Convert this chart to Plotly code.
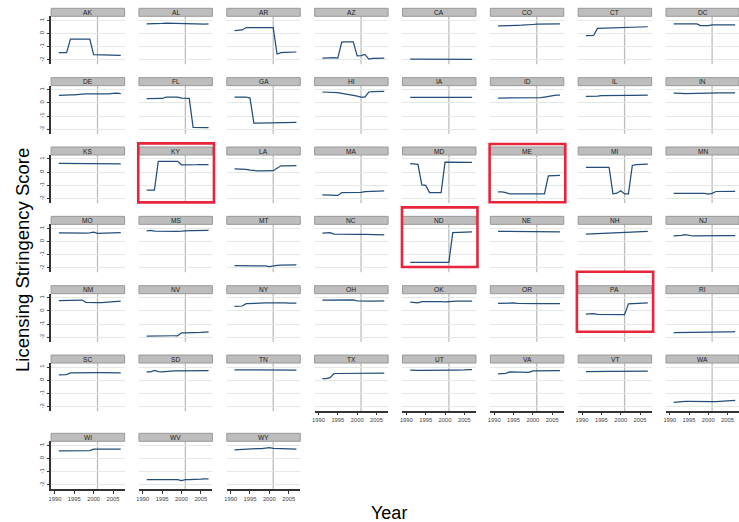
import plotly.graph_objects as go

# ---------------------------------------------------------------- data
YEARS = list(range(1991, 2008))

STATES = [
    "AK", "AL", "AR", "AZ", "CA", "CO", "CT", "DC",
    "DE", "FL", "GA", "HI", "IA", "ID", "IL", "IN",
    "KS", "KY", "LA", "MA", "MD", "ME", "MI", "MN",
    "MO", "MS", "MT", "NC", "ND", "NE", "NH", "NJ",
    "NM", "NV", "NY", "OH", "OK", "OR", "PA", "RI",
    "SC", "SD", "TN", "TX", "UT", "VA", "VT", "WA",
    "WI", "WV", "WY",
]

AK = [-1.45, -1.45, -1.45, -0.42, -0.42, -0.43, -0.43, -0.43, -0.42, -1.6, -1.6, -1.6, -1.61, -1.62, -1.63, -1.65, -1.65]
AL = [0.72, 0.72, 0.73, 0.74, 0.76, 0.78, 0.77, 0.75, 0.74, 0.74, 0.74, 0.74, 0.74, 0.73, 0.72, 0.71, 0.73]
AR = [0.22, 0.23, 0.27, 0.45, 0.45, 0.45, 0.45, 0.45, 0.45, 0.45, 0.45, -1.55, -1.45, -1.43, -1.43, -1.43, -1.4]
AZ = [-1.87, -1.85, -1.84, -1.82, -1.86, -0.65, -0.64, -0.64, -0.64, -1.69, -1.68, -1.58, -1.94, -1.88, -1.87, -1.87, -1.86]
CA = [-1.93, -1.93, -1.92, -1.92, -1.91, -1.91, -1.91, -1.9, -1.9, -1.9, -1.9, -1.91, -1.91, -1.92, -1.93, -1.94, -1.95]
CO = [0.57, 0.57, 0.58, 0.59, 0.6, 0.62, 0.63, 0.63, 0.64, 0.68, 0.7, 0.7, 0.7, 0.71, 0.71, 0.71, 0.72]
CT = [-0.17, -0.17, -0.15, 0.38, 0.39, 0.4, 0.41, 0.42, 0.43, 0.45, 0.46, 0.47, 0.48, 0.49, 0.5, 0.51, 0.51]
DC = [0.73, 0.73, 0.74, 0.74, 0.74, 0.74, 0.73, 0.6, 0.58, 0.6, 0.65, 0.65, 0.65, 0.66, 0.66, 0.66, 0.66]
DE = [0.56, 0.58, 0.63, 0.6, 0.61, 0.66, 0.66, 0.67, 0.67, 0.67, 0.67, 0.66, 0.67, 0.68, 0.72, 0.74, 0.7]
FL = [0.31, 0.31, 0.32, 0.32, 0.33, 0.43, 0.43, 0.44, 0.43, 0.36, 0.35, 0.34, -1.86, -1.87, -1.87, -1.88, -1.88]
GA = [0.44, 0.44, 0.44, 0.44, 0.36, -1.53, -1.53, -1.53, -1.53, -1.53, -1.53, -1.52, -1.51, -1.5, -1.48, -1.48, -1.48]
HI = [0.82, 0.82, 0.82, 0.81, 0.78, 0.72, 0.68, 0.62, 0.56, 0.5, 0.44, 0.44, 0.82, 0.84, 0.85, 0.86, 0.87]
IA = [0.41, 0.41, 0.41, 0.41, 0.41, 0.41, 0.41, 0.41, 0.41, 0.41, 0.41, 0.41, 0.41, 0.41, 0.41, 0.41, 0.41]
ID = [0.36, 0.36, 0.36, 0.36, 0.36, 0.36, 0.36, 0.36, 0.36, 0.36, 0.37, 0.4, 0.44, 0.5, 0.56, 0.58, 0.58]
IL = [0.49, 0.49, 0.5, 0.51, 0.55, 0.56, 0.56, 0.56, 0.56, 0.56, 0.56, 0.57, 0.57, 0.57, 0.58, 0.58, 0.59]
IN = [0.74, 0.75, 0.71, 0.7, 0.7, 0.7, 0.71, 0.72, 0.73, 0.74, 0.74, 0.74, 0.75, 0.76, 0.77, 0.77, 0.76]
KS = [0.66, 0.66, 0.66, 0.66, 0.66, 0.66, 0.66, 0.66, 0.66, 0.66, 0.65, 0.63, 0.62, 0.62, 0.62, 0.62, 0.62]
KY = [-1.36, -1.36, -1.36, 0.81, 0.81, 0.82, 0.82, 0.82, 0.82, 0.56, 0.55, 0.55, 0.56, 0.57, 0.58, 0.58, 0.58]
LA = [0.25, 0.25, 0.24, 0.22, 0.15, 0.11, 0.1, 0.1, 0.1, 0.1, 0.11, 0.3, 0.48, 0.48, 0.48, 0.49, 0.49]
MA = [-1.71, -1.72, -1.73, -1.76, -1.76, -1.54, -1.54, -1.53, -1.53, -1.53, -1.52, -1.47, -1.46, -1.45, -1.43, -1.42, -1.41]
MD = [0.64, 0.64, 0.6, -0.96, -1.0, -1.54, -1.54, -1.54, -1.54, 0.76, 0.76, 0.76, 0.76, 0.76, 0.75, 0.75, 0.74]
ME = [-1.49, -1.49, -1.55, -1.64, -1.64, -1.64, -1.64, -1.64, -1.64, -1.64, -1.64, -1.64, -1.64, -0.28, -0.27, -0.26, -0.24]
MI = [0.36, 0.36, 0.36, 0.36, 0.36, 0.36, 0.36, -1.64, -1.59, -1.41, -1.64, -1.64, 0.51, 0.57, 0.6, 0.61, 0.61]
MN = [-1.6, -1.6, -1.59, -1.59, -1.59, -1.59, -1.59, -1.59, -1.6, -1.66, -1.6, -1.46, -1.46, -1.46, -1.46, -1.46, -1.45]
MO = [0.66, 0.65, 0.64, 0.64, 0.64, 0.64, 0.64, 0.64, 0.65, 0.71, 0.62, 0.62, 0.62, 0.63, 0.64, 0.66, 0.67]
MS = [0.81, 0.84, 0.78, 0.77, 0.77, 0.77, 0.77, 0.77, 0.77, 0.78, 0.82, 0.82, 0.83, 0.83, 0.84, 0.84, 0.85]
MT = [-1.83, -1.83, -1.82, -1.82, -1.82, -1.82, -1.82, -1.82, -1.84, -1.89, -1.82, -1.8, -1.79, -1.78, -1.76, -1.75, -1.76]
NC = [0.63, 0.65, 0.68, 0.56, 0.55, 0.55, 0.55, 0.55, 0.55, 0.55, 0.54, 0.54, 0.54, 0.53, 0.53, 0.52, 0.51]
ND = [-1.57, -1.56, -1.57, -1.57, -1.57, -1.57, -1.57, -1.57, -1.57, -1.57, -1.57, 0.68, 0.69, 0.7, 0.71, 0.72, 0.73]
NE = [0.77, 0.77, 0.75, 0.74, 0.74, 0.74, 0.74, 0.74, 0.74, 0.74, 0.74, 0.74, 0.74, 0.74, 0.74, 0.74, 0.74]
NH = [0.56, 0.57, 0.6, 0.62, 0.63, 0.64, 0.66, 0.68, 0.69, 0.7, 0.71, 0.71, 0.72, 0.72, 0.73, 0.74, 0.76]
NJ = [0.43, 0.43, 0.47, 0.53, 0.46, 0.42, 0.42, 0.43, 0.44, 0.46, 0.47, 0.47, 0.46, 0.45, 0.44, 0.43, 0.45]
NM = [0.78, 0.79, 0.8, 0.81, 0.82, 0.83, 0.82, 0.65, 0.63, 0.63, 0.63, 0.63, 0.64, 0.66, 0.68, 0.7, 0.73]
NV = [-1.9, -1.89, -1.89, -1.88, -1.88, -1.88, -1.88, -1.88, -1.88, -1.66, -1.66, -1.66, -1.65, -1.63, -1.62, -1.6, -1.58]
NY = [0.35, 0.35, 0.37, 0.55, 0.57, 0.57, 0.58, 0.59, 0.6, 0.6, 0.61, 0.61, 0.6, 0.6, 0.59, 0.58, 0.58]
OH = [0.81, 0.81, 0.81, 0.82, 0.82, 0.82, 0.82, 0.83, 0.83, 0.76, 0.74, 0.73, 0.73, 0.74, 0.74, 0.75, 0.76]
OK = [0.66, 0.65, 0.6, 0.7, 0.71, 0.71, 0.7, 0.7, 0.7, 0.69, 0.72, 0.72, 0.73, 0.73, 0.73, 0.74, 0.74]
OR = [0.56, 0.57, 0.6, 0.63, 0.6, 0.56, 0.55, 0.55, 0.55, 0.55, 0.55, 0.55, 0.55, 0.54, 0.52, 0.54, 0.55]
PA = [-0.25, -0.23, -0.2, -0.27, -0.28, -0.28, -0.28, -0.28, -0.28, -0.28, -0.29, 0.53, 0.54, 0.55, 0.57, 0.59, 0.61]
RI = [-1.64, -1.64, -1.64, -1.64, -1.64, -1.64, -1.64, -1.63, -1.63, -1.63, -1.62, -1.62, -1.61, -1.6, -1.59, -1.58, -1.56]
SC = [0.4, 0.4, 0.42, 0.55, 0.56, 0.56, 0.56, 0.56, 0.57, 0.57, 0.57, 0.57, 0.57, 0.57, 0.56, 0.56, 0.56]
SD = [0.63, 0.64, 0.75, 0.65, 0.64, 0.68, 0.7, 0.71, 0.71, 0.71, 0.71, 0.71, 0.71, 0.7, 0.69, 0.68, 0.72]
TN = [0.78, 0.78, 0.76, 0.75, 0.77, 0.77, 0.77, 0.78, 0.78, 0.78, 0.78, 0.77, 0.76, 0.76, 0.77, 0.77, 0.77]
TX = [0.13, 0.13, 0.2, 0.5, 0.51, 0.51, 0.51, 0.51, 0.52, 0.56, 0.56, 0.56, 0.56, 0.55, 0.54, 0.54, 0.54]
UT = [0.77, 0.78, 0.75, 0.74, 0.75, 0.76, 0.76, 0.76, 0.76, 0.76, 0.76, 0.77, 0.77, 0.76, 0.78, 0.8, 0.8]
VA = [0.48, 0.49, 0.52, 0.63, 0.63, 0.6, 0.6, 0.6, 0.6, 0.7, 0.71, 0.71, 0.71, 0.72, 0.72, 0.73, 0.73]
VT = [0.66, 0.67, 0.67, 0.67, 0.67, 0.67, 0.67, 0.67, 0.67, 0.67, 0.67, 0.67, 0.66, 0.67, 0.69, 0.7, 0.68]
WA = [-1.68, -1.64, -1.6, -1.6, -1.6, -1.61, -1.62, -1.63, -1.63, -1.62, -1.61, -1.61, -1.6, -1.58, -1.56, -1.54, -1.53]
WI = [0.57, 0.58, 0.58, 0.57, 0.57, 0.57, 0.58, 0.59, 0.6, 0.7, 0.71, 0.71, 0.71, 0.71, 0.71, 0.71, 0.71]
WV = [-1.6, -1.6, -1.58, -1.58, -1.58, -1.58, -1.58, -1.58, -1.6, -1.67, -1.6, -1.6, -1.6, -1.59, -1.56, -1.54, -1.55]
WY = [0.66, 0.68, 0.7, 0.74, 0.75, 0.75, 0.75, 0.75, 0.76, 0.82, 0.76, 0.75, 0.75, 0.75, 0.74, 0.73, 0.71]

X_TICKS = [1990, 1995, 2000, 2005]
Y_TICKS = [-2, -1, 0, 1]
Y_TICKTEXT = ["-2", "-1", "0", "1"]
REFERENCE_YEAR = 2001
HIGHLIGHTED = ["KY", "ME", "ND", "PA"]

scores = {s: globals()[s] for s in STATES}

# ---------------------------------------------------------------- layout geometry (pixels)
W, H = 739, 522
NCOL = 8
COL_X0, COL_STEP, PANEL_W = 48.3, 88.2, 73.8
ROW_Y0, ROW_STEP, LAST_ROW_Y = 8.3, 69.35, 433.3
STRIP_H, PLOT_H = 8.0, 48.0

FONT = "Liberation Sans, Arial, sans-serif"
LINE_COLOR = "#234d7a"
GRID_COLOR = "#e2e9e6"
AXIS_COLOR = "#333333"
TICK_FONT = dict(family=FONT, size=5.8, color="#404040")


def fx(px):
    return min(max(px / W, 0.0), 1.0)


def fy(py):
    return min(max(1 - py / H, 0.0), 1.0)


fig = go.Figure()
layout = {}
shapes = []
annotations = []
panel_box = {}

for i, st in enumerate(STATES):
    r, c = divmod(i, NCOL)
    top = ROW_Y0 + ROW_STEP * r if r < 6 else LAST_ROW_Y
    left = COL_X0 + COL_STEP * c
    plot_top = top + STRIP_H
    plot_bot = plot_top + PLOT_H
    panel_box[st] = (left, top, plot_bot)

    k = i + 1
    suffix = "" if k == 1 else str(k)
    is_left = c == 0
    is_bottom = i + NCOL >= len(STATES)

    fig.add_trace(go.Scatter(
        x=YEARS, y=scores[st], mode="lines",
        line=dict(color=LINE_COLOR, width=1.25),
        xaxis="x" + suffix, yaxis="y" + suffix,
        showlegend=False, hoverinfo="x+y", name=st,
    ))

    layout["xaxis" + suffix] = dict(
        domain=[fx(left), fx(left + PANEL_W)],
        anchor="y" + suffix,
        range=[1989, 2008],
        tickvals=X_TICKS,
        showgrid=False, zeroline=False,
        showticklabels=is_bottom,
        ticks="outside" if is_bottom else "",
        ticklen=2.5, tickwidth=1, tickcolor=AXIS_COLOR,
        showline=is_bottom, linecolor=AXIS_COLOR, linewidth=1.6,
        tickfont=TICK_FONT,
        fixedrange=True,
    )
    layout["yaxis" + suffix] = dict(
        domain=[fy(plot_bot), fy(plot_top)],
        anchor="x" + suffix,
        range=[-2.33, 1.3],
        tickvals=Y_TICKS, ticktext=Y_TICKTEXT,
        showgrid=True, gridcolor=GRID_COLOR, gridwidth=1,
        zeroline=False,
        showticklabels=is_left,
        ticks="outside" if is_left else "",
        ticklen=2.5, tickwidth=1, tickcolor=AXIS_COLOR,
        tickangle=-90,
        showline=is_left, linecolor=AXIS_COLOR, linewidth=1.6,
        tickfont=TICK_FONT,
        fixedrange=True,
    )

    # reference year marker
    shapes.append(dict(
        type="line", xref="x" + suffix, yref=("y" + suffix) + " domain",
        x0=REFERENCE_YEAR, x1=REFERENCE_YEAR, y0=0, y1=1,
        line=dict(color="#bcbcbc", width=1.3), layer="below",
    ))

    # facet strip
    shapes.append(dict(
        type="rect", xref="paper", yref="paper",
        x0=fx(left), x1=fx(left + PANEL_W), y0=fy(plot_top), y1=fy(top),
        fillcolor="#bdbdbd", line=dict(color="#999999", width=1),
    ))
    annotations.append(dict(
        text=st, xref="paper", yref="paper",
        x=fx(left + PANEL_W / 2), y=fy(top + STRIP_H / 2),
        xanchor="center", yanchor="middle", showarrow=False,
        font=dict(family=FONT, size=6.6, color="#1a1a1a"),
    ))

# outline boxes around the highlighted states
box_pad = {"KY": (-1.0, -3.6, -0.6), "ME": (-1.0, -3.0, -0.7),
           "ND": (-0.8, -9.0, -5.4), "PA": (-1.6, -14.0, -10.0)}
for st in HIGHLIGHTED:
    left, top, bot = panel_box[st]
    dl, dt, db = box_pad[st]
    shapes.append(dict(
        type="rect", xref="paper", yref="paper",
        x0=fx(left + dl + 0.3), x1=fx(left + PANEL_W + 1.5),
        y0=fy(bot + db), y1=fy(top + dt),
        line=dict(color="#e8253b", width=2.6), fillcolor="rgba(0,0,0,0)",
    ))

annotations.append(dict(
    text="Licensing Stringency Score", xref="paper", yref="paper",
    x=fx(19), y=fy(260), textangle=-90, showarrow=False,
    xanchor="center", yanchor="middle",
    font=dict(family=FONT, size=18.5, color="#000000"),
))
annotations.append(dict(
    text="Year", xref="paper", yref="paper",
    x=fx(388), y=fy(512.5), showarrow=False,
    xanchor="center", yanchor="middle",
    font=dict(family=FONT, size=18, color="#000000"),
))

fig.update_layout(
    width=W, height=H,
    margin=dict(l=0, r=0, t=0, b=0),
    paper_bgcolor="white", plot_bgcolor="white",
    shapes=shapes, annotations=annotations,
    showlegend=False,
    **layout,
)

fig.write_html("out.html")
